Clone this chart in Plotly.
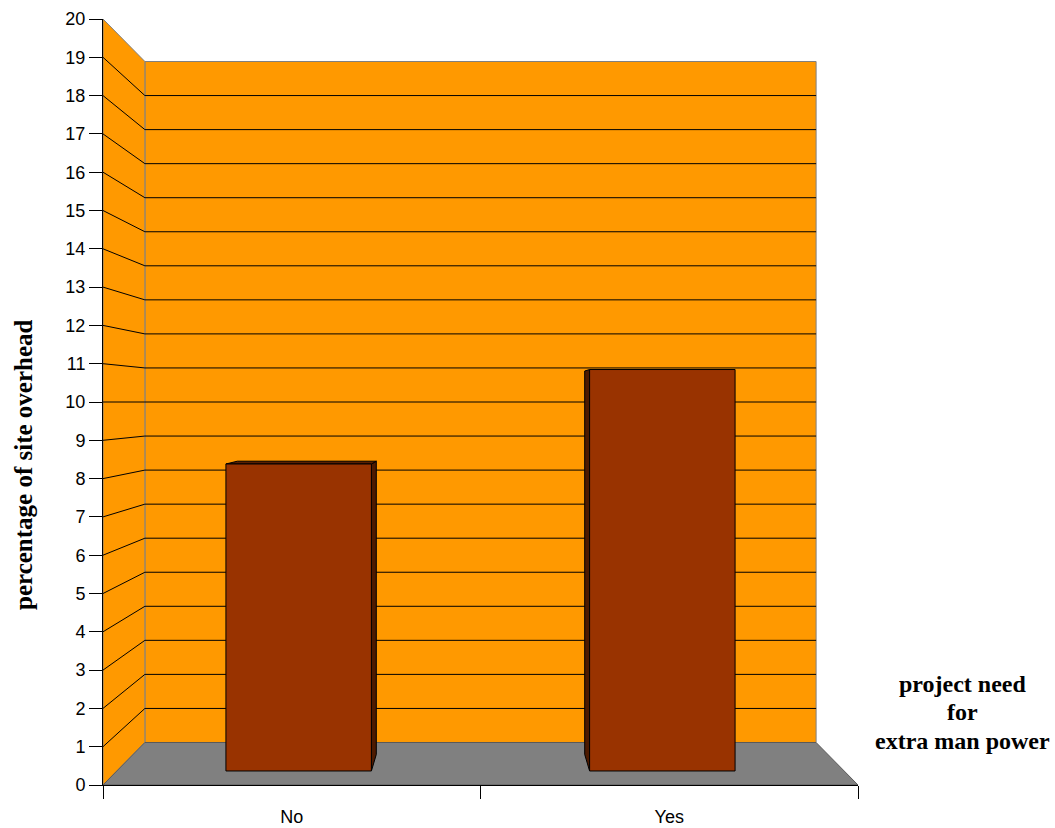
import plotly.graph_objects as go

# Data
categories = ["No", "Yes"]
values = [8.32, 10.88]
y_ticks = list(range(0, 21))

y_title = "percentage of site overhead"
x_title_lines = ["project need", "for", "extra man power"]

# 3D-look geometry: front plane uses the axis coordinates directly,
# deeper planes shrink toward a vanishing point in the middle of the plot.
Y_MAX = 20
N_CAT = len(categories)
VP_U, VP_V = N_CAT / 2, Y_MAX / 2
SHRINK = 0.111          # scale loss from front plane to back wall
BAR_HALF = 0.2          # half bar width in category units
D_FRONT, D_BACK = 0.33, 0.72  # bar depth span (0 = front, 1 = back wall)

ORANGE = "#FF9900"
FLOOR = "#808080"
EDGE = "#808080"
BAR_FRONT = "#993300"
BAR_SIDE = "#4D1A00"
BAR_TOP = "#5C1F00"


def proj(u, v, d):
    s = 1 - SHRINK * d
    return VP_U + (u - VP_U) * s, VP_V + (v - VP_V) * s


def poly(points, fill, line_color, width=1):
    xs, ys = [], []
    for p in points:
        x, y = proj(*p)
        xs.append(x)
        ys.append(y)
    xs.append(xs[0])
    ys.append(ys[0])
    return go.Scatter(x=xs, y=ys, mode="lines", fill="toself", fillcolor=fill,
                      line=dict(color=line_color, width=width),
                      hoverinfo="skip", showlegend=False)


fig = go.Figure()

# back wall
fig.add_trace(poly([(0, 0, 1), (N_CAT, 0, 1), (N_CAT, Y_MAX, 1), (0, Y_MAX, 1)], ORANGE, EDGE))
# side wall
fig.add_trace(poly([(0, 0, 0), (0, 0, 1), (0, Y_MAX, 1), (0, Y_MAX, 0)], ORANGE, EDGE))

# gridlines on both walls
gx, gy = [], []
for k in y_ticks[1:-1]:
    for a, b in [((0, k, 0), (0, k, 1)), ((0, k, 1), (N_CAT, k, 1))]:
        x0, y0 = proj(*a)
        x1, y1 = proj(*b)
        gx += [x0, x1, None]
        gy += [y0, y1, None]
fig.add_trace(go.Scatter(x=gx, y=gy, mode="lines", line=dict(color="black", width=1),
                         hoverinfo="skip", showlegend=False))

# floor
fig.add_trace(poly([(0, 0, 0), (N_CAT, 0, 0), (N_CAT, 0, 1), (0, 0, 1)], FLOOR, "#5a5a5a"))

# bars
for i, val in enumerate(values):
    c = i + 0.5
    u0, u1 = c - BAR_HALF, c + BAR_HALF
    side_u = u1 if c < VP_U else u0
    fig.add_trace(poly([(side_u, 0, D_FRONT), (side_u, val, D_FRONT),
                        (side_u, val, D_BACK), (side_u, 0, D_BACK)], BAR_SIDE, "black"))
    if val < VP_V:
        fig.add_trace(poly([(u0, val, D_FRONT), (u1, val, D_FRONT),
                            (u1, val, D_BACK), (u0, val, D_BACK)], BAR_TOP, "black"))
    fig.add_trace(poly([(u0, 0, D_FRONT), (u1, 0, D_FRONT),
                        (u1, val, D_FRONT), (u0, val, D_FRONT)], BAR_FRONT, "black"))

fig.update_layout(
    width=1055, height=828,
    margin=dict(l=103, r=197, t=19, b=43, autoexpand=False),
    paper_bgcolor="white", plot_bgcolor="white",
    font=dict(family="Liberation Sans, Arial, sans-serif", size=18, color="black"),
    showlegend=False,
)

fig.update_xaxes(
    range=[0, N_CAT], showgrid=False, zeroline=False, automargin=False,
    showline=True, linecolor="black", linewidth=1,
    tickmode="array", tickvals=[i + 0.5 for i in range(N_CAT)], ticktext=categories,
    ticks="", ticklabelstandoff=15,
    minor=dict(tickmode="array", tickvals=list(range(N_CAT + 1)), ticks="outside",
               ticklen=13, tickcolor="black", tickwidth=1, showgrid=False),
    fixedrange=True,
)
fig.update_yaxes(
    range=[0, Y_MAX], showgrid=False, zeroline=False, automargin=False,
    showline=True, linecolor="black", linewidth=1,
    tickmode="array", tickvals=y_ticks,
    ticks="outside", ticklen=13, tickcolor="black", tickwidth=1,
    ticklabelstandoff=0,
    fixedrange=True,
)

serif = "Liberation Serif, Times New Roman, serif"
fig.add_annotation(text="<b>" + y_title + "</b>", textangle=-90, xref="paper", yref="paper",
                   x=-0.106, y=0.419, xanchor="center", yanchor="middle",
                   font=dict(family=serif, size=25, color="black"), showarrow=False)
for j, line in enumerate(x_title_lines):
    fig.add_annotation(text="<b>" + line + "</b>", xref="paper", yref="paper",
                       x=1.139, y=0.132 - j * 0.0372, xanchor="center", yanchor="middle",
                       font=dict(family=serif, size=24, color="black"), showarrow=False)

fig.write_html("out.html")
